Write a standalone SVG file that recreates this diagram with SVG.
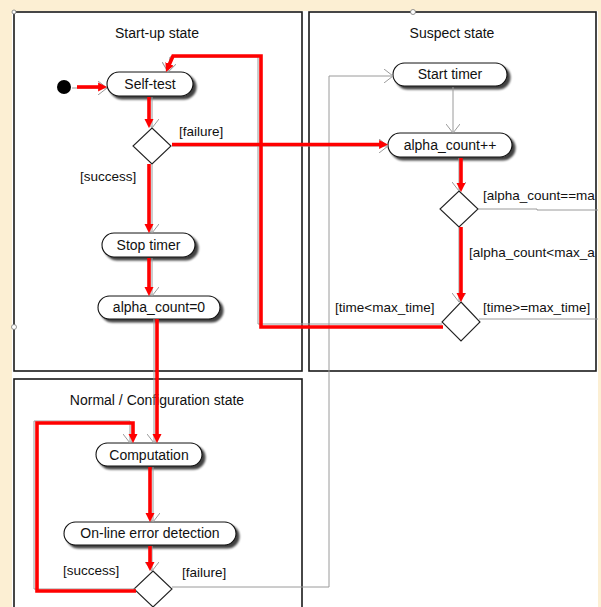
<svg xmlns="http://www.w3.org/2000/svg" width="601" height="607" viewBox="0 0 601 607">
<style>
.box{fill:none;stroke:#1a1a1a;stroke-width:1.6}
.title{font-family:"Liberation Sans",Arial,sans-serif;font-size:14px;fill:#111;text-anchor:middle}
.pill{fill:#fff;stroke:#111;stroke-width:1.1;filter:url(#sh)}
.ptxt{font-family:"Liberation Sans",Arial,sans-serif;font-size:14px;fill:#111;text-anchor:middle}
.dia{fill:#fff;stroke:#222;stroke-width:1.1}
.lbl{font-family:"Liberation Sans",Arial,sans-serif;font-size:13.5px;fill:#111}
.red{fill:none;stroke:#ff0000;stroke-width:3.6;stroke-linejoin:miter;marker-end:url(#ra)}
.grey{fill:none;stroke:#9a9a9a;stroke-width:1;marker-end:url(#ga)}
.greyn{fill:none;stroke:#9a9a9a;stroke-width:1}
.handle{fill:#fff;stroke:#777;stroke-width:0.8}
</style>
<defs>
<filter id="sh" x="-10%" y="-30%" width="130%" height="180%">
<feGaussianBlur in="SourceAlpha" stdDeviation="1"/>
<feOffset dx="3" dy="3" result="o"/>
<feComponentTransfer><feFuncA type="linear" slope="0.75"/></feComponentTransfer>
<feMerge><feMergeNode/><feMergeNode in="SourceGraphic"/></feMerge>
</filter>
<marker id="ra" viewBox="0 0 10 10" refX="1" refY="5" markerWidth="9" markerHeight="10" markerUnits="userSpaceOnUse" orient="auto">
<path d="M0,0 L10,5 L0,10 z" fill="#ff0000"/>
</marker>
<marker id="ga" viewBox="0 0 10 14" refX="9" refY="7" markerWidth="10" markerHeight="14" markerUnits="userSpaceOnUse" orient="auto">
<path d="M0,0 L9,7 L0,14" fill="none" stroke="#9a9a9a" stroke-width="1"/>
</marker>
<clipPath id="cl"><rect x="0" y="0" width="597" height="607"/></clipPath>
</defs>

<rect x="0" y="0" width="601" height="607" fill="#fcefd3"/>
<rect x="12" y="11" width="586" height="596" fill="#ffffff"/>

<g id="startup-state">
<rect class="box" x="14" y="12" width="288" height="359"/>
<text class="title" x="157" y="38">Start-up state</text>
</g>
<g id="suspect-state">
<rect class="box" x="309" y="12" width="287" height="359"/>
<text class="title" x="452" y="38">Suspect state</text>
</g>
<g id="normal-state">
<rect class="box" x="14" y="379" width="288" height="240"/>
<text class="title" x="157" y="405">Normal / Configuration state</text>
</g>

<g id="initial"><circle cx="64" cy="87" r="7" fill="#000"/></g>
<g id="self-test"><rect class="pill" x="107" y="72" width="86" height="24" rx="12"/><text class="ptxt" x="150" y="88.5">Self-test</text></g>
<g id="decision-selftest"><polygon class="dia" points="152,128 171,146 152,164 133,146"/></g>
<g id="stop-timer"><rect class="pill" x="102" y="233" width="93" height="24" rx="12"/><text class="ptxt" x="148.5" y="250">Stop timer</text></g>
<g id="alpha-reset"><rect class="pill" x="98" y="296" width="122" height="23" rx="11.5"/><text class="ptxt" x="159" y="312">alpha_count=0</text></g>
<g id="start-timer"><rect class="pill" x="393" y="63" width="114" height="23" rx="11.5"/><text class="ptxt" x="450" y="79">Start timer</text></g>
<g id="alpha-inc"><rect class="pill" x="388" y="133" width="124" height="24" rx="12"/><text class="ptxt" x="450" y="149.5">alpha_count++</text></g>
<g id="decision-alpha"><polygon class="dia" points="459,191 478,209 459,227 440,209"/></g>
<g id="decision-time"><polygon class="dia" points="461,302 480,322 461,341 442,322"/></g>
<g id="computation"><rect class="pill" x="96" y="443" width="106" height="23" rx="11.5"/><text class="ptxt" x="149" y="459.5">Computation</text></g>
<g id="error-detection"><rect class="pill" x="64" y="522" width="172" height="23" rx="11.5"/><text class="ptxt" x="150" y="538">On-line error detection</text></g>
<g id="decision-normal"><polygon class="dia" points="153,571 172,589 153,607 134,589"/></g>

<g id="connectors">
<path class="grey" d="M72,88 L107,88"/>
<path class="grey" d="M152,97 L152,128"/>
<path class="grey" d="M172,146 L388,146"/>
<path class="grey" d="M152,164 L152,233"/>
<path class="grey" d="M152,258 L152,296"/>
<path class="grey" d="M154,319 L154,443"/>
<path class="grey" d="M442,324 L258,324 L258,57 L170,57 L168,72"/>
<path class="grey" d="M453,87 L453,133"/>
<path class="grey" d="M459,158 L459,191"/>
<path class="greyn" d="M478,209 L537,209 L537,210 L598,210"/>
<path class="grey" d="M459,227 L459,302"/>
<path class="greyn" d="M479,319 L598,319"/>
<path class="grey" d="M153,467 L153,522"/>
<path class="grey" d="M152,546 L152,571"/>
<path class="grey" d="M172,587 L329,587 L329,76 L393,76"/>
<path class="grey" d="M135,589 L34,589 L34,421 L130,421 L130,443"/>

<path class="red" d="M77,87 L99,87"/>
<path class="red" d="M149,97 L149,120"/>
<path class="red" d="M172,144.5 L380,144.5"/>
<path class="red" d="M149,164 L149,225"/>
<path class="red" d="M149,258 L149,288"/>
<path class="red" d="M157,319 L157,435"/>
<path class="red" d="M443,327 L261,327 L261,56 L173,56 L169.2,64.7"/>
<path class="red" d="M461,158 L461,184"/>
<path class="red" d="M461,227 L461,294"/>
<path class="red" d="M150,467 L150,514"/>
<path class="red" d="M150,546 L150,563"/>
<path class="red" d="M136,591 L37,591 L37,423 L133,423 L133,435"/>
</g>

<g id="labels" clip-path="url(#cl)">
<text class="lbl" x="179" y="136">[failure]</text>
<text class="lbl" x="80" y="181">[success]</text>
<text class="lbl" x="483" y="200">[alpha_count==ma</text>
<text class="lbl" x="469" y="257">[alpha_count&lt;max_a</text>
<text class="lbl" x="335" y="312">[time&lt;max_time]</text>
<text class="lbl" x="483" y="312">[time&gt;=max_time]</text>
<text class="lbl" x="63" y="575">[success]</text>
<text class="lbl" x="182" y="577">[failure]</text>
</g>

<g id="handles">
<circle class="handle" cx="14" cy="12" r="2"/>
<circle class="handle" cx="413" cy="12" r="2.5"/>
<circle class="handle" cx="14" cy="327" r="2.5"/>
</g>
</svg>
